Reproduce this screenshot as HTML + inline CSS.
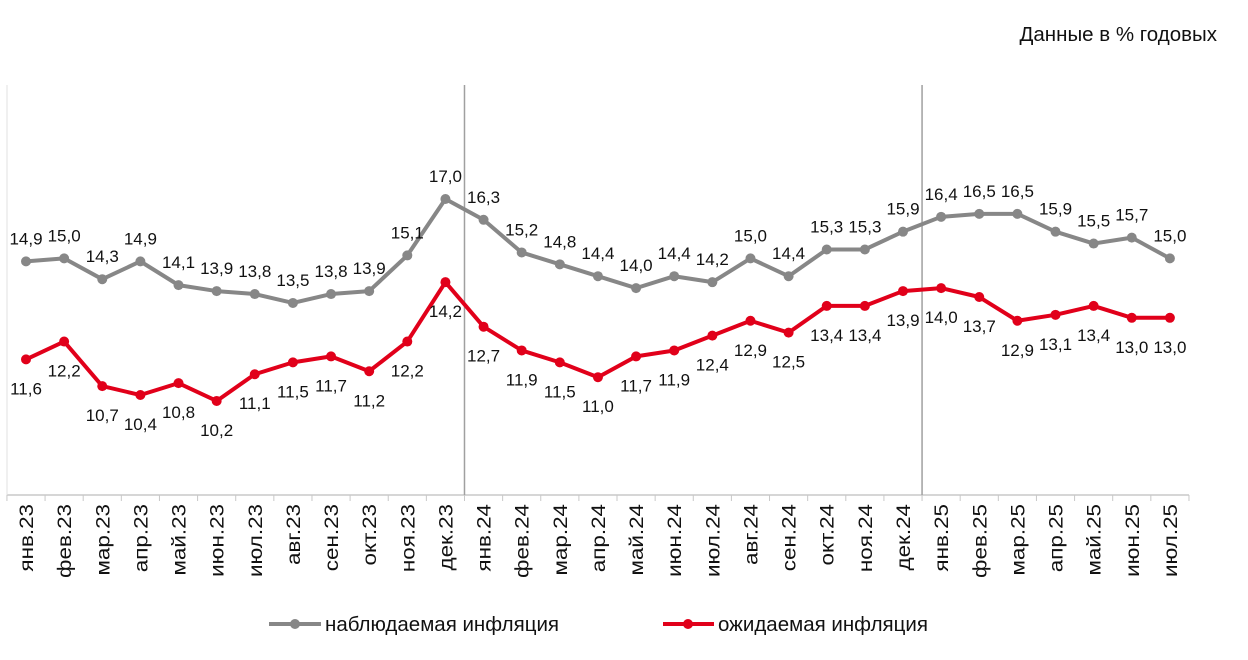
<!DOCTYPE html>
<html><head><meta charset="utf-8">
<style>
html,body{margin:0;padding:0;background:#fff;}
body{width:1248px;height:655px;overflow:hidden;font-family:"Liberation Sans",sans-serif;}
svg text{font-family:"Liberation Sans",sans-serif;}
</style></head>
<body>
<svg id="chart" width="1248" height="655" xmlns="http://www.w3.org/2000/svg">
<text x="1217" y="41" text-anchor="end" font-size="20.5" fill="#111">Данные в % годовых</text>
<g id="grid"></g>
<g id="series"></g>
<g id="legend">
  <g>
    <line x1="269" y1="624" x2="321" y2="624" stroke="#878787" stroke-width="4"/>
    <circle cx="295" cy="624" r="5" fill="#878787"/>
    <text x="325" y="631" font-size="20.5" fill="#111">наблюдаемая инфляция</text>
  </g>
  <g>
    <line x1="663" y1="624" x2="714" y2="624" stroke="#e1001a" stroke-width="4"/>
    <circle cx="688" cy="624" r="5" fill="#e1001a"/>
    <text x="718" y="631" font-size="20.5" fill="#111">ожидаемая инфляция</text>
  </g>
</g>
</svg>
<script>
const categories = ["янв.23","фев.23","мар.23","апр.23","май.23","июн.23","июл.23","авг.23","сен.23","окт.23","ноя.23","дек.23","янв.24","фев.24","мар.24","апр.24","май.24","июн.24","июл.24","авг.24","сен.24","окт.24","ноя.24","дек.24","янв.25","фев.25","мар.25","апр.25","май.25","июн.25","июл.25"];
const observed = [14.9,15.0,14.3,14.9,14.1,13.9,13.8,13.5,13.8,13.9,15.1,17.0,16.3,15.2,14.8,14.4,14.0,14.4,14.2,15.0,14.4,15.3,15.3,15.9,16.4,16.5,16.5,15.9,15.5,15.7,15.0];
const expected = [11.6,12.2,10.7,10.4,10.8,10.2,11.1,11.5,11.7,11.2,12.2,14.2,12.7,11.9,11.5,11.0,11.7,11.9,12.4,12.9,12.5,13.4,13.4,13.9,14.0,13.7,12.9,13.1,13.4,13.0,13.0];
const separators = ["дек.23","дек.24"];

const NS="http://www.w3.org/2000/svg";
const x0=26, step=38.13, axisY=495;
function xScale(i){return x0+i*step;}
function yScale(v){return 199+(17-v)*29.7;}
function mk(tag,attrs,parent){const e=document.createElementNS(NS,tag);for(const k in attrs)e.setAttribute(k,attrs[k]);parent.appendChild(e);return e;}
const grid=document.getElementById('grid'), ser=document.getElementById('series');

const ax=mk('line',{x1:7,y1:axisY,x2:xScale(categories.length-1)+step/2,y2:axisY,stroke:'#c8c8c8','stroke-width':1.5},grid);


const lax=mk('line',{x1:7,y1:85,x2:7,y2:axisY,stroke:'#e0e0e0','stroke-width':1},grid);


for(let i=0;i<=categories.length;i++){
  const tx=xScale(i)-step/2;
  const t=mk('line',{x1:tx,y1:axisY,x2:tx,y2:axisY+6,stroke:'#c8c8c8','stroke-width':1},grid);
  
  
}
categories.forEach((c,i)=>{
  const x=xScale(i);
  const t=mk('text',{x:0,y:0,transform:`translate(${x+7},504) rotate(-90) scale(1.18,1)`,'text-anchor':'end','font-size':19,fill:'#111'},grid);
  t.textContent=c;
  
  
});
separators.forEach(s=>{
  const i=categories.indexOf(s);
  const x=xScale(i)+step/2;
  const l=mk('line',{x1:x,y1:85,x2:x,y2:axisY,stroke:'#a0a0a0','stroke-width':1.5},grid);
  
  
});

function drawSeries(vals,color,name,dy){
  const g=mk('g',{},ser);
  
  
  const pts=vals.map((v,i)=>xScale(i)+','+yScale(v)).join(' ');
  const pl=mk('polyline',{points:pts,fill:'none',stroke:color,'stroke-width':4,'stroke-linejoin':'round'},g);
  
  
  vals.forEach((v,i)=>{
    const c=mk('circle',{cx:xScale(i),cy:yScale(v),r:5,fill:color},g);
    
    
    const t=mk('text',{x:xScale(i),y:yScale(v)+dy,'text-anchor':'middle','font-size':17,fill:'#111'},g);
    t.textContent=v.toFixed(1).replace('.',',');
    
    
  });
}
drawSeries(observed,'#878787','observed',-17);
drawSeries(expected,'#e1001a','expected',35);
</script>
</body></html>
